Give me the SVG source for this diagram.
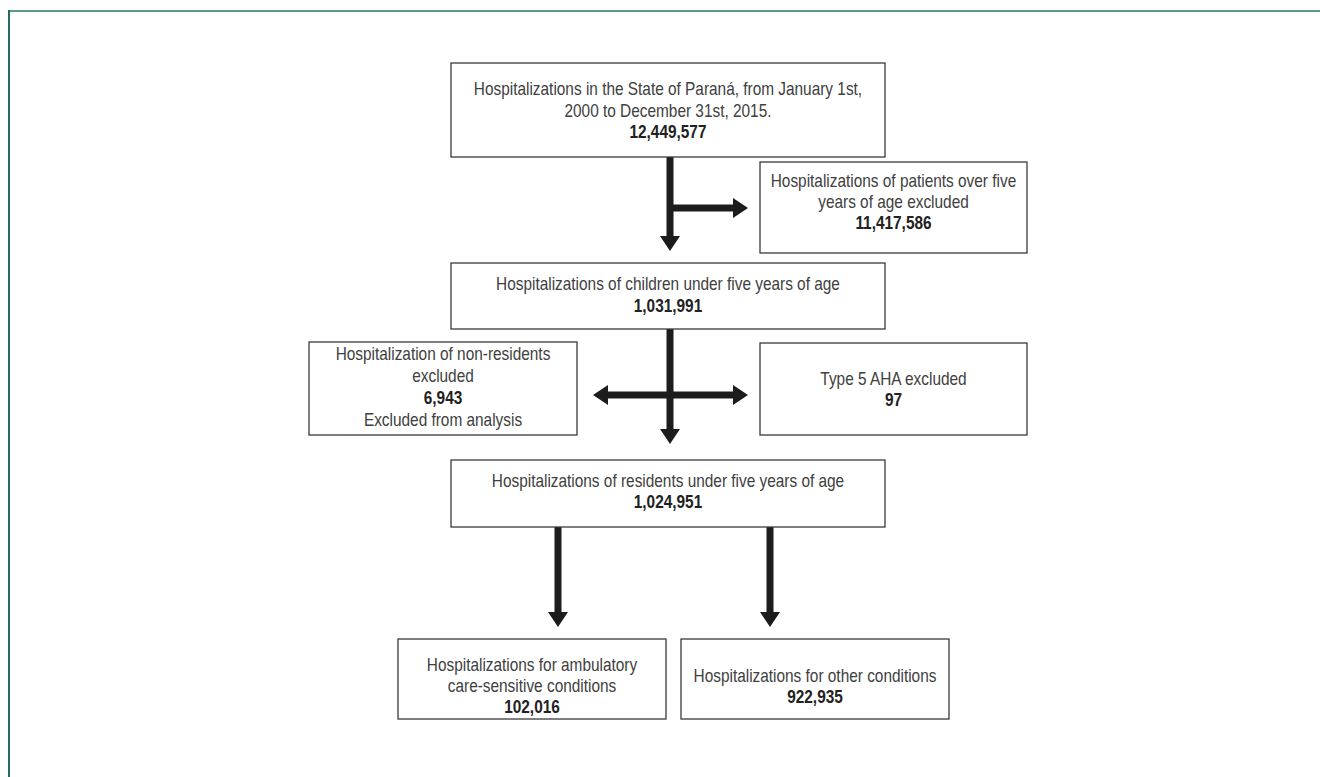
<svg xmlns="http://www.w3.org/2000/svg" width="1320" height="777" viewBox="0 0 1320 777">
<defs>
<style>
.box{fill:#fff;stroke:#3a3a3a;stroke-width:1.3}
.t{font-family:"Liberation Sans",Arial,sans-serif;font-size:17.5px;fill:#404040;text-anchor:middle}
.b{font-weight:bold;fill:#222}
.ln{stroke:#1c1c1c;stroke-width:7;fill:none}
.hd{fill:#1c1c1c}
</style>
</defs>
<rect width="1320" height="777" fill="#fff"/>
<line x1="9" y1="11" x2="1320" y2="11" stroke="#5a9a8a" stroke-width="2"/>
<line x1="9" y1="10" x2="9" y2="777" stroke="#1f6e5e" stroke-width="2"/>

<g id="connectors">
<line class="ln" x1="670" y1="157" x2="670" y2="237"/>
<polygon class="hd" points="660,236 680,236 670,251"/>
<line class="ln" x1="670" y1="208" x2="734" y2="208"/>
<polygon class="hd" points="733,198 733,218 748,208"/>
<line class="ln" x1="670" y1="329" x2="670" y2="430"/>
<polygon class="hd" points="660,429 680,429 670,444"/>
<line class="ln" x1="607" y1="395" x2="734" y2="395"/>
<polygon class="hd" points="608,385 608,405 593,395"/>
<polygon class="hd" points="733,385 733,405 748,395"/>
<line class="ln" x1="558" y1="527" x2="558" y2="613"/>
<polygon class="hd" points="548,612 568,612 558,627"/>
<line class="ln" x1="770" y1="527" x2="770" y2="613"/>
<polygon class="hd" points="760,612 780,612 770,627"/>
</g>

<g id="n1">
<rect class="box" x="451" y="63" width="434" height="94"/>
<g transform="matrix(0.88 0 0 1 80.16 0)">
<text class="t" x="668" y="95">Hospitalizations in the State of Paraná, from January 1st,</text>
<text class="t" x="668" y="117">2000 to December 31st, 2015.</text>
<text class="t b" x="668" y="138">12,449,577</text>
</g>
</g>
<g id="n2">
<rect class="box" x="760" y="162" width="267" height="91"/>
<g transform="matrix(0.88 0 0 1 107.22 0)">
<text class="t" x="893.5" y="187">Hospitalizations of patients over five</text>
<text class="t" x="893.5" y="208">years of age excluded</text>
<text class="t b" x="893.5" y="229">11,417,586</text>
</g>
</g>
<g id="n3">
<rect class="box" x="451" y="263" width="434" height="66"/>
<g transform="matrix(0.88 0 0 1 80.16 0)">
<text class="t" x="668" y="290">Hospitalizations of children under five years of age</text>
<text class="t b" x="668" y="312">1,031,991</text>
</g>
</g>
<g id="n4">
<rect class="box" x="309" y="342" width="268" height="93"/>
<g transform="matrix(0.88 0 0 1 53.16 0)">
<text class="t" x="443" y="360">Hospitalization of non-residents</text>
<text class="t" x="443" y="382">excluded</text>
<text class="t b" x="443" y="404">6,943</text>
<text class="t" x="443" y="426">Excluded from analysis</text>
</g>
</g>
<g id="n5">
<rect class="box" x="760" y="343" width="267" height="92"/>
<g transform="matrix(0.88 0 0 1 107.22 0)">
<text class="t" x="893.5" y="385">Type 5 AHA excluded</text>
<text class="t b" x="893.5" y="406">97</text>
</g>
</g>
<g id="n6">
<rect class="box" x="451" y="460" width="434" height="67"/>
<g transform="matrix(0.88 0 0 1 80.16 0)">
<text class="t" x="668" y="487">Hospitalizations of residents under five years of age</text>
<text class="t b" x="668" y="508">1,024,951</text>
</g>
</g>
<g id="n7">
<rect class="box" x="398" y="639" width="268" height="80"/>
<g transform="matrix(0.88 0 0 1 63.84 0)">
<text class="t" x="532" y="671">Hospitalizations for ambulatory</text>
<text class="t" x="532" y="692">care-sensitive conditions</text>
<text class="t b" x="532" y="713">102,016</text>
</g>
</g>
<g id="n8">
<rect class="box" x="681" y="639" width="268" height="80"/>
<g transform="matrix(0.88 0 0 1 97.8 0)">
<text class="t" x="815" y="682">Hospitalizations for other conditions</text>
<text class="t b" x="815" y="703">922,935</text>
</g>
</g>
</svg>
